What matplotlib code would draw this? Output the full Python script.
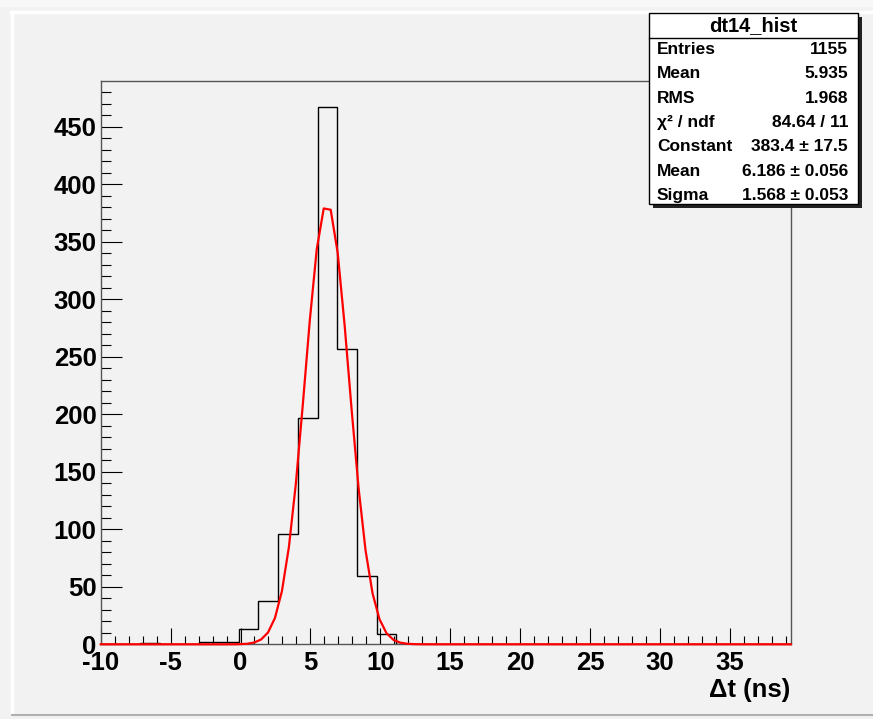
import numpy as np
import matplotlib.pyplot as plt
from matplotlib.patches import Rectangle
from matplotlib.lines import Line2D

plt.rcParams['axes.unicode_minus'] = False

# ----- donnees -----
x_min = -10.0
bin_width = 1.41
counts = [0, 0, 1, 0, 0, 2, 2, 13, 38, 96, 197, 467, 257, 59, 9,
          0, 0, 0, 0, 0, 0, 0, 0, 0, 0, 0, 0, 0, 0, 0, 0, 0, 0, 0, 0]

# parametres du fit gaussien (boite de stats)
fit_const = 383.4
fit_mean = 6.186
fit_sigma = 1.568

stats_title = "dt14_hist"
stats_names = ["Entries", "Mean", "RMS", "χ² / ndf", "Constant", "Mean", "Sigma"]
stats_values = ["1155", "5.935", "1.968", "84.64 / 11",
                "383.4 ± 17.5", "6.186 ± 0.056", "1.568 ± 0.053"]

x_ticks = [-10, -5, 0, 5, 10, 15, 20, 25, 30, 35]
y_ticks = [0, 50, 100, 150, 200, 250, 300, 350, 400, 450]

edges = x_min + bin_width * np.arange(len(counts) + 1)
x_max = edges[-1]

W, H = 873, 719
bg = '#f2f2f2'
font = 'Liberation Sans'

fig = plt.figure(figsize=(W / 100, H / 100), dpi=100, facecolor=bg)

# bordure du canvas (style ROOT)
fig.patches.append(Rectangle((0, 1 - 7 / H), 1, 7 / H, transform=fig.transFigure,
                             facecolor='#f8f8f8', edgecolor='none', zorder=0))
fig.lines.append(Line2D([11 / W, 1], [1 - 12 / H, 1 - 12 / H], transform=fig.transFigure,
                        color='white', lw=2.5))
fig.lines.append(Line2D([12 / W, 12 / W], [1 - 12 / H, 1 - 714 / H], transform=fig.transFigure,
                        color='white', lw=2.5))
fig.lines.append(Line2D([12 / W, 1], [1 - 715 / H, 1 - 715 / H], transform=fig.transFigure,
                        color='#b0b0b0', lw=1.5))

ax = fig.add_axes([100.7 / W, 1 - 644.3 / H, (790.7 - 100.7) / W, (644.3 - 81) / H])
ax.set_facecolor(bg)

ax.stairs(counts, edges, color='black', lw=1.0, zorder=3)

# courbe du fit (TF1 avec 100 points)
xf = np.linspace(x_min, x_max, 100)
yf = fit_const * np.exp(-0.5 * ((xf - fit_mean) / fit_sigma) ** 2)
ax.plot(xf, yf, color='red', lw=1.6, zorder=4, clip_on=False)

ax.set_xlim(x_min, x_max)
ax.set_ylim(0, 490)
ax.set_xticks(x_ticks)
ax.set_yticks(y_ticks)
ax.set_xticks(np.arange(-10, 40, 1), minor=True)
ax.set_yticks(np.arange(0, 490, 10), minor=True)

for s in ax.spines.values():
    s.set_color('#555555')
    s.set_linewidth(1.0)

ax.tick_params(axis='both', which='both', direction='in', color='black', width=0.8)
ax.tick_params(axis='x', which='major', length=11.5, pad=5)
ax.tick_params(axis='x', which='minor', length=6)
ax.tick_params(axis='y', which='major', length=15, pad=3)
ax.tick_params(axis='y', which='minor', length=7.5)
ax.tick_params(top=False, right=False)

for lab in ax.get_xticklabels() + ax.get_yticklabels():
    lab.set_fontfamily(font)
    lab.set_fontweight('bold')
    lab.set_fontsize(18.5)

ax.set_xlabel("Δt (ns)", loc='right', fontfamily=font, fontweight='bold', fontsize=18.5)
ax.xaxis.label.set_va('center')
ax.xaxis.set_label_coords(1.0, -(690 - 644.3) / (644.3 - 81))

# ----- boite de stats -----
bx0, bx1, by0, by1 = 649, 858, 13, 204
sh = 4
fig.patches.append(Rectangle((bx0 / W + sh / W, 1 - (by1 + sh) / H), (bx1 - bx0) / W, (by1 - by0) / H,
                             transform=fig.transFigure, facecolor='#222222', edgecolor='none', zorder=5))
fig.patches.append(Rectangle((bx0 / W, 1 - by1 / H), (bx1 - bx0) / W, (by1 - by0) / H,
                             transform=fig.transFigure, facecolor='white', edgecolor='black',
                             lw=1.0, zorder=6))
fig.lines.append(Line2D([bx0 / W, bx1 / W], [1 - 38 / H, 1 - 38 / H], transform=fig.transFigure,
                        color='black', lw=1.0, zorder=7))
fig.text((bx0 + bx1) / 2 / W, 1 - 25.5 / H, stats_title, ha='center', va='center',
         fontfamily=font, fontweight='bold', fontsize=14.5, zorder=8)
for i, (name, val) in enumerate(zip(stats_names, stats_values)):
    yy = 1 - (49.5 + i * 24.3) / H
    fig.text(657 / W, yy, name, ha='left', va='center', fontfamily=font,
             fontweight='bold', fontsize=12.5, zorder=8)
    fig.text(848 / W, yy, val, ha='right', va='center', fontfamily=font,
             fontweight='bold', fontsize=12.5, zorder=8)

fig.savefig('out.png', dpi=100, facecolor=bg)
